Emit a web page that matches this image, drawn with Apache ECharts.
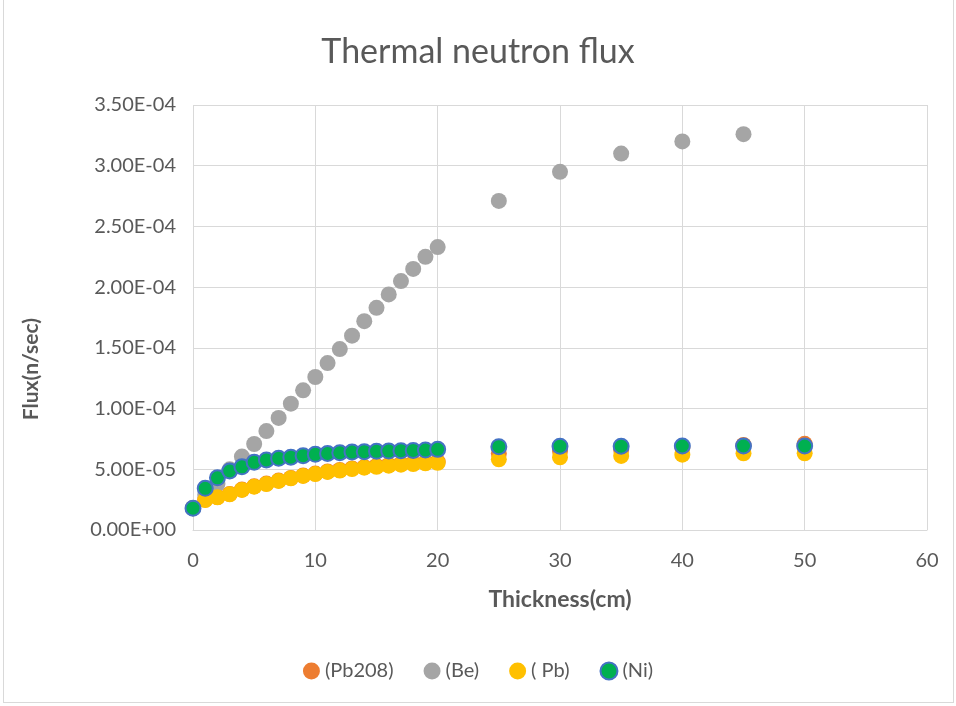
<!DOCTYPE html>
<html>
<head>
<meta charset="utf-8">
<script src="https://cdn.jsdelivr.net/npm/echarts@6/dist/echarts.min.js"></script>
<style>
    html, body { margin: 0; padding: 0; background: #fff; }
    #frame { position: absolute; left: 3px; top: 0; width: 951px; height: 703px; border: 1px solid #d9d9d9; border-top: none; box-sizing: border-box; }
    #main { width: 956px; height: 706px; }
</style>
</head>
<body>
<div id="frame"></div>
<div id="main"></div>
<script>
// thickness (cm)
var thickness = [0, 1, 2, 3, 4, 5, 6, 7, 8, 9, 10, 11, 12, 13, 14, 15, 16, 17, 18, 19, 20, 25, 30, 35, 40, 45, 50];
var thicknessBe = [0, 1, 2, 3, 4, 5, 6, 7, 8, 9, 10, 11, 12, 13, 14, 15, 16, 17, 18, 19, 20, 25, 30, 35, 40, 45];

var fluxPb208 = [1.8e-5, 2.5e-5, 2.72e-5, 2.97e-5, 3.33e-5, 3.6e-5, 3.82e-5, 4.07e-5, 4.29e-5, 4.48e-5, 4.65e-5, 4.82e-5, 4.94e-5, 5.07e-5, 5.18e-5, 5.27e-5, 5.36e-5, 5.44e-5, 5.5e-5, 5.56e-5, 5.62e-5,
    6.3e-5, 6.5e-5, 6.6e-5, 6.8e-5, 7.0e-5, 7.1e-5];
var fluxBe = [1.8e-5, 2.9e-5, 3.8e-5, 5.0e-5, 6.05e-5, 7.08e-5, 8.15e-5, 9.23e-5, 1.04e-4, 1.15e-4, 1.26e-4, 1.375e-4, 1.49e-4, 1.6e-4, 1.72e-4, 1.83e-4, 1.94e-4, 2.05e-4, 2.15e-4, 2.25e-4, 2.33e-4,
    2.71e-4, 2.95e-4, 3.1e-4, 3.2e-4, 3.26e-4];
var fluxPb = [1.8e-5, 2.47e-5, 2.69e-5, 2.94e-5, 3.3e-5, 3.57e-5, 3.79e-5, 4.04e-5, 4.26e-5, 4.45e-5, 4.61e-5, 4.78e-5, 4.89e-5, 5.02e-5, 5.13e-5, 5.21e-5, 5.3e-5, 5.38e-5, 5.43e-5, 5.49e-5, 5.54e-5,
    5.82e-5, 5.99e-5, 6.1e-5, 6.2e-5, 6.32e-5, 6.32e-5];
var fluxNi = [1.8e-5, 3.43e-5, 4.3e-5, 4.86e-5, 5.2e-5, 5.57e-5, 5.77e-5, 5.9e-5, 6.0e-5, 6.12e-5, 6.23e-5, 6.3e-5, 6.36e-5, 6.42e-5, 6.45e-5, 6.48e-5, 6.5e-5, 6.53e-5, 6.55e-5, 6.58e-5, 6.64e-5,
    6.86e-5, 6.9e-5, 6.9e-5, 6.92e-5, 6.92e-5, 6.92e-5];

var seriesNames = ["(Pb208)", "(Be)", "( Pb)", "(Ni)"];

function pairs(xs, ys) {
    return xs.map(function (x, i) { return [x, ys[i]]; });
}

function sci(v) {
    if (v === 0) return "0.00E+00";
    var e = Math.floor(Math.log10(Math.abs(v)) + 1e-9);
    var m = v / Math.pow(10, e);
    var es = Math.abs(e) < 10 ? "0" + Math.abs(e) : "" + Math.abs(e);
    return m.toFixed(2) + "E" + (e < 0 ? "-" : "+") + es;
}

var font = "Lato, 'Open Sans', sans-serif";
var chart = echarts.init(document.getElementById("main"));

chart.setOption({
    animation: false,
    title: {
        text: "Thermal neutron flux",
        left: "center",
        top: 30,
        textStyle: { fontFamily: font, fontSize: 34, fontWeight: "normal", color: "#595959" }
    },
    legend: {
        bottom: 20,
        left: "center",
        itemWidth: 17,
        itemHeight: 17,
        itemGap: 30,
        textStyle: { fontFamily: font, fontSize: 20, color: "#595959" },
        data: [
            { name: seriesNames[0], icon: "circle" },
            { name: seriesNames[1], icon: "circle" },
            { name: seriesNames[2], icon: "circle" },
            { name: seriesNames[3], icon: "circle" }
        ]
    },
    graphic: [
        {
            type: "text",
            left: 21,
            top: 318,
            rotation: Math.PI / 2,
            style: {
                text: "Flux(n/sec)",
                font: "bold 21px " + font,
                fill: "#595959"
            }
        }
    ],
    grid: {
        left: 193,
        right: 29,
        top: 105,
        bottom: 176
    },
    xAxis: {
        type: "value",
        min: 0,
        max: 60,
        interval: 10,
        name: "Thickness(cm)",
        nameLocation: "middle",
        nameGap: 58,
        nameTextStyle: { fontFamily: font, fontSize: 23, fontWeight: "bold", color: "#595959" },
        axisLine: { lineStyle: { color: "#d9d9d9", width: 1 } },
        axisTick: { show: false },
        axisLabel: { fontFamily: font, fontSize: 20, color: "#595959", margin: 21 },
        splitLine: { show: true, lineStyle: { color: "#d9d9d9", width: 1 } }
    },
    yAxis: {
        type: "value",
        min: 0,
        max: 3.5e-4,
        interval: 5e-5,
        axisLine: { show: false },
        axisTick: { show: false },
        axisLabel: { fontFamily: font, fontSize: 20, color: "#595959", margin: 17, formatter: sci },
        splitLine: { lineStyle: { color: "#d9d9d9", width: 1 } }
    },
    series: [
        {
            name: seriesNames[0],
            type: "scatter",
            symbolSize: 16,
            itemStyle: { color: "#ED7D31", opacity: 1 },
            data: pairs(thickness, fluxPb208)
        },
        {
            name: seriesNames[1],
            type: "scatter",
            symbolSize: 16,
            itemStyle: { color: "#A5A5A5", opacity: 1 },
            data: pairs(thicknessBe, fluxBe)
        },
        {
            name: seriesNames[2],
            type: "scatter",
            symbolSize: 16,
            itemStyle: { color: "#FFC000", opacity: 1 },
            data: pairs(thickness, fluxPb)
        },
        {
            name: seriesNames[3],
            type: "scatter",
            symbolSize: 15,
            itemStyle: { color: "#00B050", borderColor: "#4472C4", borderWidth: 2, opacity: 1 },
            data: pairs(thickness, fluxNi)
        }
    ]
});
</script>
</body>
</html>
